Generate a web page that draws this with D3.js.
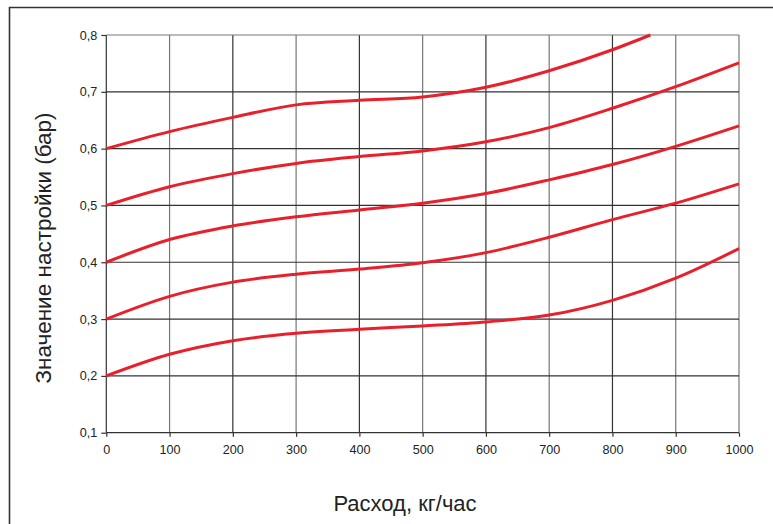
<!DOCTYPE html>
<html><head><meta charset="utf-8">
<script src="https://cdn.jsdelivr.net/npm/d3@7"></script>
<style>
html,body{margin:0;padding:0;background:#fff;}
svg{display:block;font-family:"Liberation Sans",Arial,sans-serif;}
</style></head>
<body>
<svg id="chart" width="773" height="524"></svg>
<script>
const flowTicks = [0,100,200,300,400,500,600,700,800,900,1000];
const pressureTicks = [0.1,0.2,0.3,0.4,0.5,0.6,0.7,0.8];
const xLabel = "Расход, кг/час";
const yLabel = "Значение настройки (бар)";

const flowX = [0,100,200,300,400,500,600,700,800,900,1000];
const seriesA = [0.600,0.630,0.655,0.677,0.685,0.691,0.708,0.737,0.774];
const seriesAEnd = [860,0.800];
const seriesB = [0.500,0.533,0.556,0.574,0.586,0.596,0.612,0.637,0.671,0.709,0.751];
const seriesC = [0.400,0.440,0.464,0.480,0.492,0.504,0.521,0.545,0.572,0.604,0.640];
const seriesD = [0.300,0.340,0.365,0.379,0.388,0.399,0.417,0.444,0.475,0.504,0.538];
const seriesE = [0.200,0.238,0.262,0.275,0.282,0.288,0.295,0.307,0.333,0.372,0.424];

const svg = d3.select("#chart");
const x = d3.scaleLinear().domain([0,1000]).range([106.3,739]);
const y = d3.scaleLinear().domain([0.1,0.8]).range([432.7,35]);

// outer frame (extends beyond the canvas at right and bottom)
svg.append("path").attr("d","M9.5,540 V7.5 H790")
  .attr("fill","none").attr("stroke","#333").attr("stroke-width",1.6);

const grid = svg.append("g");
grid.selectAll("line.v").data(flowTicks).join("line")
  .attr("x1",d=>x(d)).attr("x2",d=>x(d)).attr("y1",y(0.8)).attr("y2",y(0.1))
  .attr("stroke",(d,i)=> (i%2===1||d===1000)?"#777":"#333").attr("stroke-width",1.2);
grid.selectAll("line.h").data(pressureTicks).join("line")
  .attr("x1",x(0)).attr("x2",x(1000)).attr("y1",d=>y(d)).attr("y2",d=>y(d))
  .attr("stroke",d=> d===0.8?"#777":"#333").attr("stroke-width",1.2);

const fmt = d=> d3.format(".1f")(d).replace(".",",");
const xAxis = svg.append("g").attr("transform",`translate(0,${y(0.1)})`)
  .call(d3.axisBottom(x).tickValues(flowTicks).tickSize(4).tickPadding(8).tickFormat(d3.format("d")));
const yAxis = svg.append("g").attr("transform",`translate(${x(0)},0)`)
  .call(d3.axisLeft(y).tickValues(pressureTicks).tickSize(5).tickPadding(4).tickFormat(fmt));
[xAxis,yAxis].forEach(a=>{
  a.select(".domain").remove();
  a.selectAll(".tick line").attr("stroke","#333").attr("stroke-width",1.2);
  a.selectAll("text").attr("fill","#222").style("font-size","12.6px")
   .style("font-family","'Liberation Sans',Arial,sans-serif");
});

const line = d3.line().x(d=>x(d[0])).y(d=>y(d[1])).curve(d3.curveMonotoneX);
const seriesList = [
  seriesA.map((v,i)=>[flowX[i],v]).concat([seriesAEnd]),
  seriesB.map((v,i)=>[flowX[i],v]),
  seriesC.map((v,i)=>[flowX[i],v]),
  seriesD.map((v,i)=>[flowX[i],v]),
  seriesE.map((v,i)=>[flowX[i],v])
];
svg.append("g").selectAll("path").data(seriesList).join("path")
  .attr("d",line).attr("fill","none").attr("stroke","#e8202c")
  .attr("stroke-width",3).attr("stroke-linecap","butt");

svg.append("text").attr("x",405).attr("y",511).attr("text-anchor","middle")
  .style("font-size","22px").attr("fill","#222").text(xLabel);
svg.append("text").attr("transform","translate(51,248) rotate(-90)").attr("text-anchor","middle")
  .style("font-size","22.5px").attr("fill","#222").text(yLabel);
</script>
</body></html>
